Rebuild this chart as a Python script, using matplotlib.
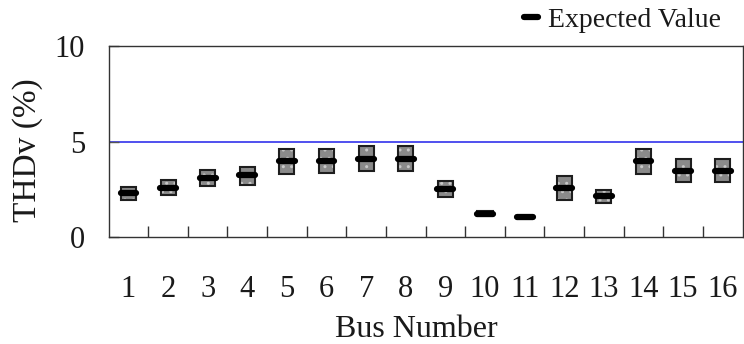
import matplotlib
matplotlib.use("Agg")
import matplotlib.pyplot as plt
from matplotlib.lines import Line2D
import numpy as np

plt.rcParams['font.family'] = ['Liberation Serif', 'DejaVu Serif']

buses = [str(i) for i in range(1, 17)]
box_low = [1.92, 2.19, 2.66, 2.75, 3.29, 3.36, 3.45, 3.45, 2.10, 1.12, 0.95, 1.92, 1.78, 3.32, 2.89, 2.89]
box_high = [2.62, 2.97, 3.53, 3.67, 4.63, 4.63, 4.77, 4.77, 2.92, 1.35, 1.12, 3.18, 2.48, 4.63, 4.07, 4.07]
expected = [2.31, 2.59, 3.09, 3.24, 3.97, 4.00, 4.11, 4.11, 2.54, 1.23, 1.03, 2.57, 2.13, 4.00, 3.48, 3.48]
limit_value = 5
yticks = [0, 5, 10]

fig = plt.figure(figsize=(7.44, 3.44), dpi=100)
ax = fig.add_axes([0.146, 0.311, 0.852, 0.555])

x = np.arange(1, len(buses) + 1)
low = np.array(box_low)
high = np.array(box_high)

ax.axhline(limit_value, color='#5050ee', lw=1.4, zorder=1)

ax.bar(x, high - low, bottom=low, width=0.38, color='#8a8a8a',
       edgecolor='#c8c8c8', hatch='..', linewidth=0, zorder=2)
ax.bar(x, high - low, bottom=low, width=0.38, fill=False,
       edgecolor='#1e1e1e', linewidth=1.5, zorder=3)

for xi, e in zip(x, expected):
    ax.plot([xi - 0.2, xi + 0.2], [e, e], color='black', lw=4.5,
            solid_capstyle='round', zorder=4)

ax.set_xlim(0.5, len(buses) + 0.5)
ax.set_ylim(0, 10)
ax.set_yticks(yticks)
ax.set_xticks(x)
ax.set_xticklabels(buses)
ax.set_xticks(np.arange(1.5, len(buses), 1.0), minor=True)

ax.tick_params(axis='x', which='major', length=0, pad=27, labelsize=22, labelcolor='#1a1a1a')
ax.tick_params(axis='x', which='minor', direction='in', length=8, width=1, color='#333333')
ax.tick_params(axis='y', direction='in', length=7, width=1, color='#555555',
               pad=17, labelsize=22, labelcolor='#1a1a1a')

for s in ax.spines.values():
    s.set_color('#333333')
    s.set_linewidth(1.0)

ax.set_xlabel('Bus Number', fontsize=23, color='#1a1a1a')
ax.xaxis.set_label_coords(0.485, -0.487)
ax.xaxis.label.set_va('center')
ax.set_ylabel('THDv (%)', fontsize=24, color='#1a1a1a')
ax.yaxis.set_label_coords(-0.128, 0.455)
ax.yaxis.label.set_va('center')

handle = Line2D([0], [0], color='black', lw=4.5, solid_capstyle='round')
fig.legend([handle], ['Expected Value'], loc='center right', frameon=False,
           bbox_to_anchor=(721 / 744, 1 - 20 / 344), bbox_transform=fig.transFigure,
           handlelength=0.5, handletextpad=0.35, borderpad=0, borderaxespad=0,
           fontsize=20, labelcolor='#1a1a1a')

fig.savefig('out.png', dpi=100)
